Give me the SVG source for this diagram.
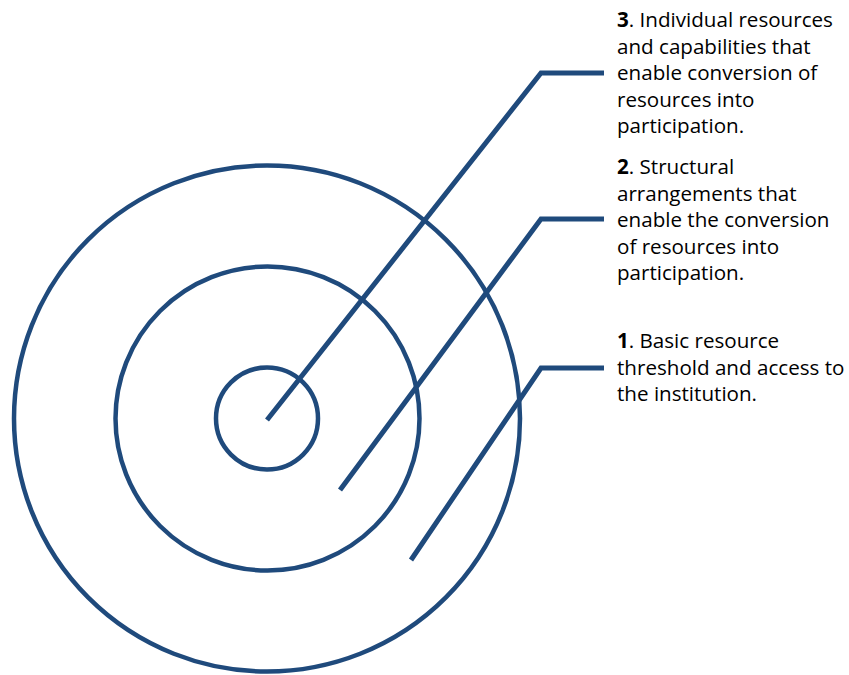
<svg xmlns="http://www.w3.org/2000/svg" width="849" height="675" viewBox="0 0 849 675">
<style>
.ring{fill:none;stroke:#1F4A7C;stroke-width:4.5}
.lead{fill:none;stroke:#1F4A7C;stroke-width:5;stroke-linejoin:miter}
.t{font-family:"Open Sans","Liberation Sans",sans-serif;font-size:20.6px;fill:#000}
.b{font-weight:bold}
</style>
<rect width="849" height="675" fill="#fff"/>
<g id="ring-outer"><circle class="ring" cx="267" cy="418.5" r="253"/></g>
<g id="ring-middle"><circle class="ring" cx="267.5" cy="418.5" r="152"/></g>
<g id="ring-inner"><circle class="ring" cx="267" cy="418.5" r="51"/></g>
<g id="connectors">
<polyline class="lead" points="267,420 541,73 604,73"/>
<polyline class="lead" points="340,490 541,219 604,219"/>
<polyline class="lead" points="411,560 541,368 604,368"/>
</g>
<g id="label-3">
<text class="t" x="617" y="27"><tspan class="b">3</tspan>. Individual resources</text>
<text class="t" x="617" y="53.5">and capabilities that</text>
<text class="t" x="617" y="80">enable conversion of</text>
<text class="t" x="617" y="106.5">resources into</text>
<text class="t" x="617" y="133">participation.</text>
</g>
<g id="label-2">
<text class="t" x="617" y="174"><tspan class="b">2</tspan>. Structural</text>
<text class="t" x="617" y="200.5">arrangements that</text>
<text class="t" x="617" y="227">enable the conversion</text>
<text class="t" x="617" y="253.5">of resources into</text>
<text class="t" x="617" y="280">participation.</text>
</g>
<g id="label-1">
<text class="t" x="617" y="348"><tspan class="b">1</tspan>. Basic resource</text>
<text class="t" x="617" y="374.5">threshold and access to</text>
<text class="t" x="617" y="401">the institution.</text>
</g>
</svg>
